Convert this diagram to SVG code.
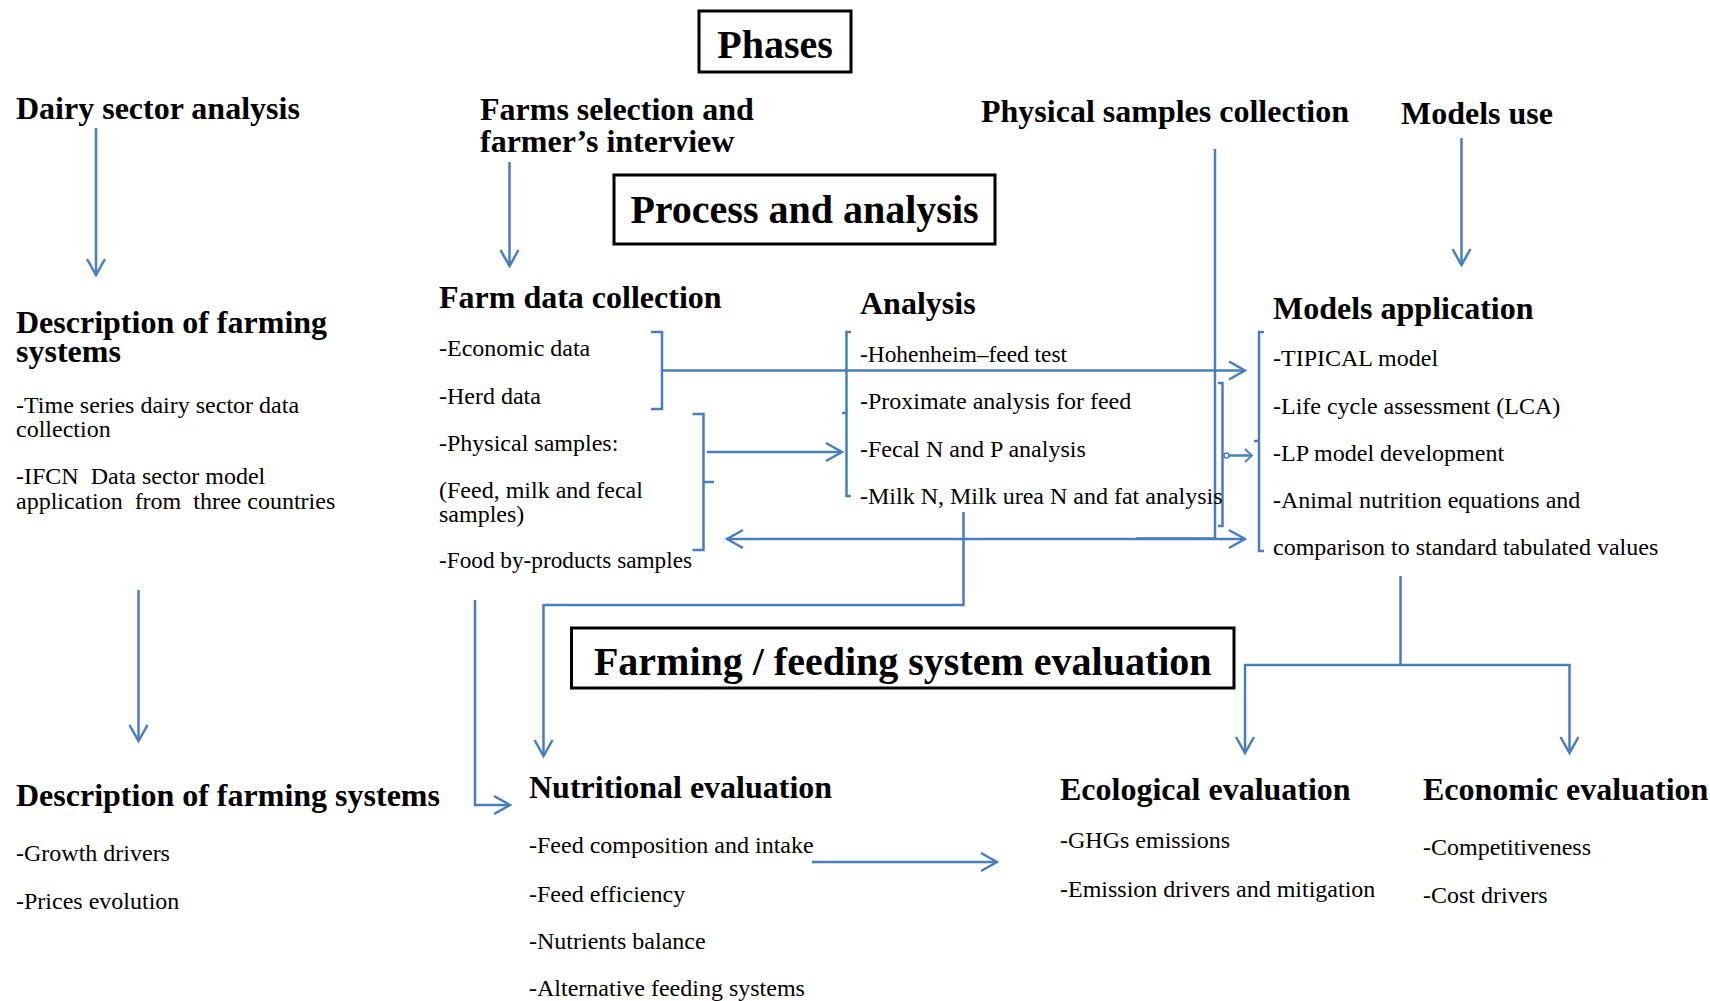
<svg xmlns="http://www.w3.org/2000/svg" width="1710" height="1001" viewBox="0 0 1710 1001">
<style>
.h{font-family:"Liberation Serif","Times New Roman",serif;font-weight:bold;font-size:32px;fill:#000}
.t{font-family:"Liberation Serif","Times New Roman",serif;font-size:24px;fill:#000;white-space:pre}
.big{font-family:"Liberation Serif","Times New Roman",serif;font-weight:bold;font-size:40px;fill:#000}
.box{fill:#fff;stroke:#000;stroke-width:3}
.c{fill:none;stroke:#4a7ebb;stroke-width:2.5}
.a{marker-end:url(#ah)}
</style>
<defs>
<marker id="ah" markerUnits="userSpaceOnUse" viewBox="-18 -12 20 24" markerWidth="20" markerHeight="24" refX="0" refY="0" orient="auto-start-reverse">
<path d="M-16,-9 L0,0 L-16,9" fill="none" stroke="#4a7ebb" stroke-width="2.5"/>
</marker>
<marker id="sah" markerUnits="userSpaceOnUse" viewBox="-10 -8 12 16" markerWidth="12" markerHeight="16" refX="0" refY="0" orient="auto">
<path d="M-7,-6.5 L0,0 L-7,6.5" fill="none" stroke="#4a7ebb" stroke-width="1.8"/>
</marker>
</defs>
<rect width="1710" height="1001" fill="#fff"/>

<g id="connectors">
<line class="c a" x1="96" y1="128" x2="96" y2="275"/>
<line class="c a" x1="509.5" y1="162" x2="509.5" y2="266"/>
<line class="c a" x1="1461.5" y1="138" x2="1461.5" y2="265"/>
<line class="c" x1="1215" y1="149" x2="1215" y2="539"/>
<line class="c a" x1="138.5" y1="590" x2="138.5" y2="741"/>
<path class="c" d="M651,332 H662 V409 H651 M662,370.5 H1245" marker-end="url(#ah)"/>
<path class="c" d="M692.5,414 H703.5 V550 H692.5 M703.5,482 H714"/>
<line class="c a" x1="707" y1="452" x2="842" y2="452"/>
<path class="c" d="M851,332 H846.5 V496 H851 M846.5,413 H842"/>
<path class="c" d="M1218,383 H1222.5 V526 H1218" stroke-width="4"/>
<circle cx="1226.5" cy="455.5" r="2.5" fill="#fff" stroke="#4a7ebb" stroke-width="1.5"/>
<line class="c" x1="1229" y1="455.5" x2="1252" y2="455.5" stroke-width="1.8" marker-end="url(#sah)"/>
<path class="c" d="M1264,332 H1259 V551 H1264 M1259,441 H1254"/>
<line class="c" x1="727" y1="539" x2="1245" y2="539" marker-start="url(#ah)" marker-end="url(#ah)"/>
<line class="c" x1="1136" y1="538.5" x2="1215" y2="538.5" stroke-width="3"/>
<path class="c" d="M963.5,512 V605 H543.5 V756" marker-end="url(#ah)"/>
<path class="c" d="M475,600 V805 H510" marker-end="url(#ah)"/>
<line class="c a" x1="812" y1="862" x2="997" y2="862"/>
<path class="c" d="M1400.5,576 V665"/>
<path class="c" d="M1245,753 V665 H1569.5 V753" marker-start="url(#ah)" marker-end="url(#ah)"/>
</g>

<g id="phases">
<rect class="box" x="699" y="11" width="152" height="61"/>
<text class="big" x="775" y="58" text-anchor="middle">Phases</text>
</g>
<g id="process">
<rect class="box" x="614" y="175" width="381" height="69"/>
<text class="big" x="804.5" y="223" text-anchor="middle">Process and analysis</text>
</g>
<g id="farming-eval">
<rect class="box" x="571.5" y="628" width="662.5" height="60"/>
<text class="big" x="902.75" y="675" text-anchor="middle">Farming / feeding system evaluation</text>
</g>

<g id="dairy-sector">
<text class="h" x="16" y="119">Dairy sector analysis</text>
</g>
<g id="farms-selection">
<text class="h" x="480" y="120">Farms selection and<tspan x="480" y="152">farmer’s interview</tspan></text>
</g>
<g id="physical-samples">
<text class="h" x="981" y="122">Physical samples collection</text>
</g>
<g id="models-use">
<text class="h" x="1401" y="124">Models use</text>
</g>

<g id="description-top">
<text class="h" x="16" y="333">Description of farming<tspan x="16" y="362">systems</tspan></text>
<text class="t" x="16" y="413">-Time series dairy sector data</text>
<text class="t" x="16" y="437">collection</text>
<text class="t" x="16" y="484">-IFCN  Data sector model</text>
<text class="t" x="16" y="509">application  from  three countries</text>
</g>

<g id="farm-data">
<text class="h" x="439" y="308">Farm data collection</text>
<text class="t" x="439" y="356">-Economic data</text>
<text class="t" x="439" y="404">-Herd data</text>
<text class="t" x="439" y="451">-Physical samples:</text>
<text class="t" x="439" y="498">(Feed, milk and fecal</text>
<text class="t" x="439" y="522">samples)</text>
<text class="t" x="439" y="568" textLength="253" lengthAdjust="spacingAndGlyphs">-Food by-products samples</text>
</g>

<g id="analysis">
<text class="h" x="860" y="314">Analysis</text>
<text class="t" x="860" y="362" textLength="207" lengthAdjust="spacingAndGlyphs">-Hohenheim–feed test</text>
<text class="t" x="860" y="409">-Proximate analysis for feed</text>
<text class="t" x="860" y="457">-Fecal N and P analysis</text>
<text class="t" x="860" y="504">-Milk N, Milk urea N and fat analysis</text>
</g>

<g id="models-application">
<text class="h" x="1273" y="319">Models application</text>
<text class="t" x="1273" y="366">-TIPICAL model</text>
<text class="t" x="1273" y="414">-Life cycle assessment (LCA)</text>
<text class="t" x="1273" y="461">-LP model development</text>
<text class="t" x="1273" y="508">-Animal nutrition equations and</text>
<text class="t" x="1273" y="555">comparison to standard tabulated values</text>
</g>

<g id="description-bottom">
<text class="h" x="16" y="806">Description of farming systems</text>
<text class="t" x="16" y="861">-Growth drivers</text>
<text class="t" x="16" y="909">-Prices evolution</text>
</g>

<g id="nutritional">
<text class="h" x="529" y="798">Nutritional evaluation</text>
<text class="t" x="529" y="853">-Feed composition and intake</text>
<text class="t" x="529" y="902">-Feed efficiency</text>
<text class="t" x="529" y="949">-Nutrients balance</text>
<text class="t" x="529" y="996">-Alternative feeding systems</text>
</g>

<g id="ecological">
<text class="h" x="1060" y="800">Ecological evaluation</text>
<text class="t" x="1060" y="848">-GHGs emissions</text>
<text class="t" x="1060" y="897">-Emission drivers and mitigation</text>
</g>

<g id="economic">
<text class="h" x="1423" y="800">Economic evaluation</text>
<text class="t" x="1423" y="855">-Competitiveness</text>
<text class="t" x="1423" y="903">-Cost drivers</text>
</g>
</svg>
